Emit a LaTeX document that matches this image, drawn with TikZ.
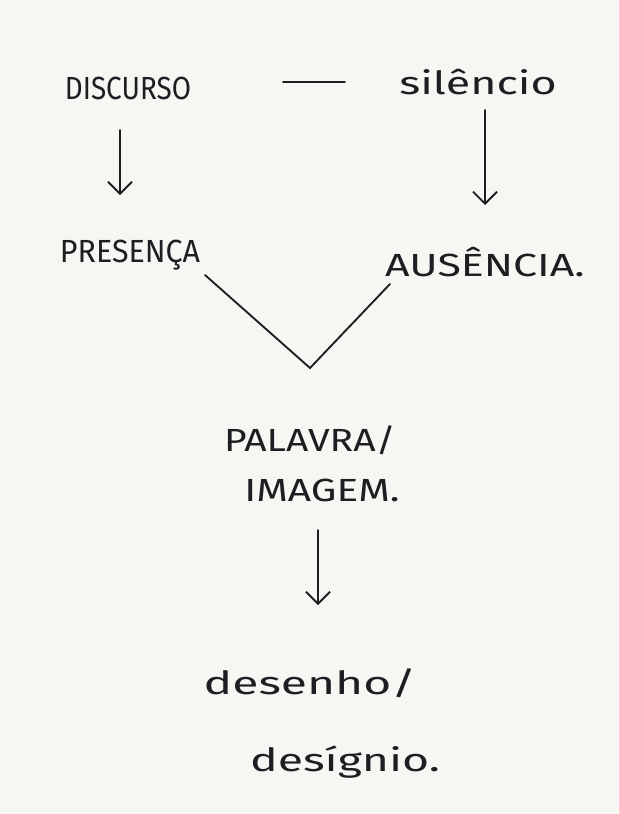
\documentclass[tikz,border=0pt]{standalone}
\usepackage{fontspec}
\setmainfont{Fira Sans}
\usetikzlibrary{arrows.meta}
\definecolor{paper}{HTML}{F6F6F3}
\definecolor{ink}{HTML}{1E1E22}
\newcommand{\wide}[2]{\scalebox{#1}[1]{#2}}
\begin{document}
\begin{tikzpicture}[x=0.75pt,y=-0.75pt,
  lbl/.style={text=ink,font=\fontsize{24}{28}\selectfont, inner sep=1pt},
  ink line/.style={draw=ink,line width=1.4pt,line cap=round},
  arr/.style={ink line,-{Straight Barb[length=9pt,width=18pt,line width=1.4pt]}}]
\fill[paper] (0,0) rectangle (618,814);
\useasboundingbox (0,0) rectangle (618,814);
\node[lbl] (disc) at (128,88) {\wide{0.87}{DISCURSO}};
\node[lbl] (sil) at (478,82) {\wide{1.4}{silêncio}};
\node[lbl] (pres) at (130,255) {\wide{0.95}{PRESENÇA}};
\node[lbl] (aus) at (485,262) {\wide{1.34}{AUSÊNCIA.}};
\coordinate (dashL) at (283,82);
\coordinate (dashR) at (345,82);
\draw[ink line] (dashL) -- (dashR);
\coordinate (vtip) at (310,368);
\coordinate (vL) at (205,275);
\coordinate (vR) at (390,284);
\draw[ink line] (vL) -- (vtip) -- (vR);
\node[lbl] (pal) at (310,440) {\wide{1.22}{PALAVRA/}};
\node[lbl] (img) at (322,490) {\wide{1.27}{IMAGEM.}};
\node[lbl] (des) at (310,683) {\wide{1.5}{desenho/}};
\node[lbl] (dsg) at (345,762) {\wide{1.45}{desígnio.}};
\coordinate (a1s) at (120,130);
\coordinate (a1e) at (120,195);
\draw[arr] (a1s) -- (a1e);
\coordinate (a2s) at (485,110);
\coordinate (a2e) at (485,205);
\draw[arr] (a2s) -- (a2e);
\coordinate (a3s) at (318,530);
\coordinate (a3e) at (318,605);
\draw[arr] (a3s) -- (a3e);
\end{tikzpicture}
\end{document}
